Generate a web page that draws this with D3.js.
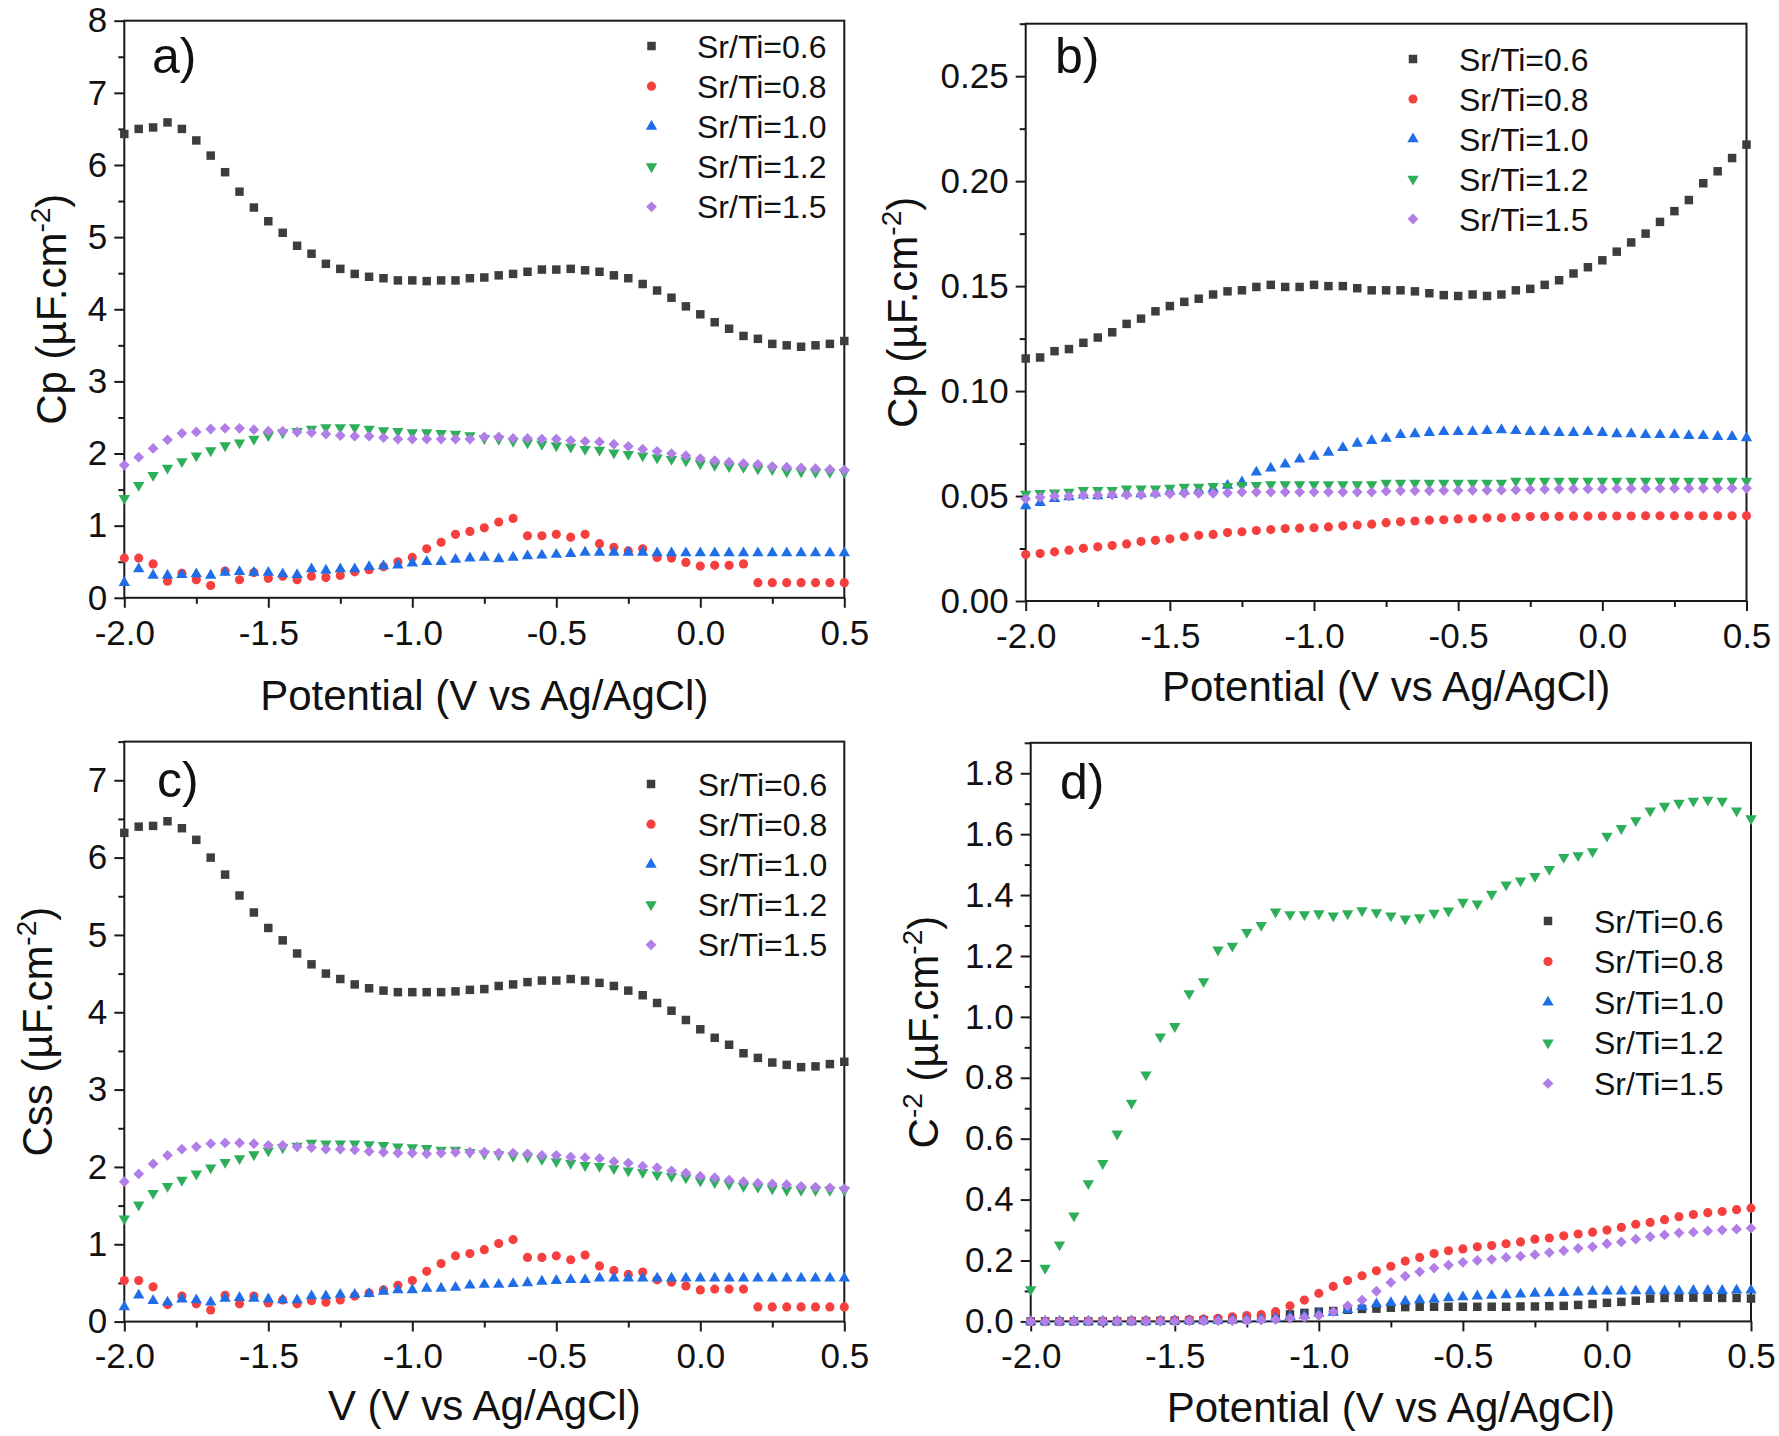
<!DOCTYPE html>
<html>
<head>
<meta charset="utf-8">
<script src="https://cdn.jsdelivr.net/npm/d3@7"></script>
<style>
  body { margin: 0; background: #fff; }
  svg { display: block; }
  text { font-family: "Liberation Sans", Arial, sans-serif; fill: #111; }
</style>
</head>
<body>
<svg id="fig"></svg>
<script>
// ─── DATA ───────────────────────────────────────────────────────────────────

const potential = [
  -2.0, -1.95, -1.9, -1.85, -1.8, -1.75, -1.7, -1.65, -1.6, -1.55,
  -1.5, -1.45, -1.4, -1.35, -1.3, -1.25, -1.2, -1.15, -1.1, -1.05,
  -1.0, -0.95, -0.9, -0.85, -0.8, -0.75, -0.7, -0.65, -0.6, -0.55,
  -0.5, -0.45, -0.4, -0.35, -0.3, -0.25, -0.2, -0.15, -0.1, -0.05,
  0.0, 0.05, 0.1, 0.15, 0.2, 0.25, 0.3, 0.35, 0.4, 0.45, 0.5
];

const seriesNames = ["Sr/Ti=0.6", "Sr/Ti=0.8", "Sr/Ti=1.0", "Sr/Ti=1.2", "Sr/Ti=1.5"];

// a) Cp
const a06 = [6.43, 6.50, 6.52, 6.59, 6.50, 6.34, 6.13, 5.90, 5.63, 5.41,
  5.22, 5.06, 4.88, 4.77, 4.63, 4.56, 4.49, 4.45, 4.43, 4.40,
  4.40, 4.39, 4.40, 4.40, 4.43, 4.44, 4.47, 4.49, 4.52, 4.55,
  4.55, 4.56, 4.54, 4.52, 4.47, 4.43, 4.35, 4.26, 4.16, 4.04,
  3.93, 3.82, 3.73, 3.63, 3.59, 3.52, 3.50, 3.48, 3.50, 3.52, 3.56];
const a08 = [0.55, 0.55, 0.47, 0.23, 0.34, 0.25, 0.17, 0.37, 0.25, 0.35,
  0.27, 0.30, 0.25, 0.30, 0.28, 0.31, 0.36, 0.39, 0.43, 0.50,
  0.56, 0.68, 0.77, 0.88, 0.92, 0.97, 1.05, 1.10, 0.86, 0.86,
  0.88, 0.84, 0.88, 0.75, 0.70, 0.65, 0.68, 0.56, 0.55, 0.49,
  0.44, 0.45, 0.45, 0.47, 0.21, 0.21, 0.21, 0.21, 0.21, 0.21, 0.21];
const a10 = [0.21, 0.40, 0.31, 0.31, 0.32, 0.33, 0.31, 0.35, 0.36, 0.35,
  0.35, 0.33, 0.32, 0.40, 0.38, 0.40, 0.40, 0.43, 0.44, 0.45,
  0.48, 0.50, 0.50, 0.53, 0.55, 0.56, 0.54, 0.56, 0.58, 0.59,
  0.60, 0.61, 0.63, 0.63, 0.63, 0.63, 0.63, 0.62, 0.62, 0.62,
  0.62, 0.62, 0.62, 0.62, 0.62, 0.62, 0.62, 0.62, 0.62, 0.62, 0.62];
const a12 = [1.38, 1.56, 1.70, 1.80, 1.89, 1.97, 2.04, 2.11, 2.15, 2.20,
  2.25, 2.29, 2.31, 2.34, 2.36, 2.36, 2.36, 2.34, 2.32, 2.31,
  2.29, 2.29, 2.28, 2.27, 2.25, 2.21, 2.20, 2.17, 2.15, 2.13,
  2.11, 2.09, 2.06, 2.05, 2.01, 1.99, 1.97, 1.94, 1.92, 1.90,
  1.86, 1.84, 1.82, 1.81, 1.79, 1.78, 1.75, 1.75, 1.74, 1.74, 1.74];
const a15 = [1.84, 1.95, 2.07, 2.19, 2.28, 2.30, 2.34, 2.35, 2.35, 2.33,
  2.31, 2.31, 2.30, 2.29, 2.27, 2.25, 2.24, 2.24, 2.22, 2.20,
  2.20, 2.20, 2.20, 2.20, 2.20, 2.23, 2.23, 2.21, 2.21, 2.20,
  2.20, 2.18, 2.17, 2.16, 2.13, 2.10, 2.06, 2.03, 2.00, 1.97,
  1.93, 1.90, 1.88, 1.86, 1.85, 1.82, 1.81, 1.80, 1.79, 1.78, 1.77];

// b) Cp
const b06 = [0.1155, 0.116, 0.119, 0.120, 0.123, 0.1255, 0.128, 0.132, 0.1345, 0.138,
  0.1405, 0.1425, 0.144, 0.146, 0.1475, 0.148, 0.1496, 0.1506, 0.1496, 0.1496,
  0.1506, 0.150, 0.150, 0.149, 0.148, 0.148, 0.148, 0.1475, 0.1466, 0.1457,
  0.1453, 0.146, 0.1453, 0.146, 0.148, 0.1487, 0.1506, 0.1528, 0.156, 0.159,
  0.1623, 0.1664, 0.1708, 0.175, 0.1806, 0.1857, 0.191, 0.199, 0.2047, 0.211, 0.2174];
const b08 = [0.0221, 0.0226, 0.0234, 0.0242, 0.0251, 0.0258, 0.0264, 0.0272, 0.0283, 0.0289,
  0.0296, 0.0306, 0.0313, 0.0317, 0.0326, 0.033, 0.0336, 0.034, 0.0345, 0.0347,
  0.0349, 0.0353, 0.0358, 0.0362, 0.0366, 0.0373, 0.0377, 0.0381, 0.0385, 0.0387,
  0.0391, 0.0392, 0.0396, 0.0396, 0.0400, 0.0402, 0.0403, 0.0403, 0.0404, 0.0404,
  0.0405, 0.0405, 0.0405, 0.0406, 0.0406, 0.0406, 0.0406, 0.0406, 0.0406, 0.0406, 0.0406];
const b10 = [0.0453, 0.0468, 0.0487, 0.0496, 0.0504, 0.0500, 0.0506, 0.0513, 0.0510, 0.0513,
  0.0523, 0.0523, 0.0528, 0.0534, 0.0550, 0.0566, 0.0613, 0.0632, 0.0651, 0.0675,
  0.0689, 0.0708, 0.0730, 0.0751, 0.0764, 0.0774, 0.0792, 0.0796, 0.0802, 0.0806,
  0.0806, 0.0806, 0.0811, 0.0815, 0.0811, 0.0806, 0.0806, 0.0802, 0.0802, 0.0806,
  0.0802, 0.0796, 0.0796, 0.0792, 0.0792, 0.0792, 0.0787, 0.0787, 0.0783, 0.0783, 0.0777];
const b12 = [0.0509, 0.0513, 0.0515, 0.0519, 0.0528, 0.0528, 0.0528, 0.0534, 0.0534, 0.0534,
  0.0538, 0.0543, 0.0543, 0.0547, 0.0547, 0.0551, 0.0551, 0.0555, 0.0555, 0.0555,
  0.0555, 0.0555, 0.0555, 0.0555, 0.0555, 0.0562, 0.0562, 0.0562, 0.0562, 0.0562,
  0.0562, 0.0562, 0.0562, 0.0562, 0.0572, 0.0572, 0.0572, 0.0572, 0.0572, 0.0572,
  0.0572, 0.0572, 0.0572, 0.0572, 0.0572, 0.0572, 0.0572, 0.0572, 0.0572, 0.0572, 0.0572];
const b15 = [0.0487, 0.0494, 0.0500, 0.0500, 0.0504, 0.0504, 0.0506, 0.0506, 0.0506, 0.0510,
  0.0510, 0.0513, 0.0513, 0.0513, 0.0515, 0.0519, 0.0519, 0.0519, 0.0519, 0.0519,
  0.0519, 0.0519, 0.0519, 0.0519, 0.0519, 0.0523, 0.0525, 0.0525, 0.0525, 0.0526,
  0.0526, 0.0527, 0.0527, 0.0528, 0.0529, 0.0530, 0.0532, 0.0533, 0.0534, 0.0534,
  0.0534, 0.0535, 0.0535, 0.0535, 0.0536, 0.0536, 0.0536, 0.0537, 0.0537, 0.0537, 0.0537];

// c) Css
const c06 = [6.32, 6.40, 6.41, 6.47, 6.38, 6.23, 6.00, 5.78, 5.51, 5.29,
  5.09, 4.93, 4.76, 4.62, 4.50, 4.43, 4.36, 4.31, 4.28, 4.26,
  4.26, 4.26, 4.26, 4.27, 4.29, 4.30, 4.34, 4.36, 4.39, 4.41,
  4.41, 4.43, 4.41, 4.38, 4.34, 4.28, 4.22, 4.12, 4.02, 3.90,
  3.78, 3.67, 3.58, 3.47, 3.41, 3.35, 3.32, 3.29, 3.30, 3.33, 3.36];
const c08 = [0.53, 0.53, 0.45, 0.22, 0.33, 0.23, 0.15, 0.34, 0.23, 0.33,
  0.24, 0.28, 0.23, 0.27, 0.25, 0.28, 0.33, 0.37, 0.41, 0.47,
  0.53, 0.65, 0.75, 0.85, 0.88, 0.93, 1.01, 1.06, 0.83, 0.83,
  0.85, 0.80, 0.86, 0.72, 0.66, 0.61, 0.64, 0.54, 0.51, 0.46,
  0.41, 0.42, 0.42, 0.42, 0.19, 0.19, 0.19, 0.19, 0.19, 0.19, 0.19];
const c10 = [0.19, 0.34, 0.27, 0.25, 0.29, 0.28, 0.25, 0.30, 0.31, 0.30,
  0.29, 0.28, 0.28, 0.33, 0.33, 0.35, 0.35, 0.36, 0.39, 0.41,
  0.41, 0.43, 0.43, 0.44, 0.47, 0.48, 0.48, 0.49, 0.50, 0.52,
  0.53, 0.54, 0.54, 0.56, 0.56, 0.56, 0.56, 0.56, 0.56, 0.56,
  0.56, 0.56, 0.56, 0.56, 0.56, 0.56, 0.56, 0.56, 0.56, 0.56, 0.56];
const c12 = [1.33, 1.51, 1.66, 1.75, 1.83, 1.91, 1.99, 2.06, 2.11, 2.16,
  2.21, 2.25, 2.27, 2.31, 2.30, 2.30, 2.30, 2.29, 2.28, 2.26,
  2.25, 2.24, 2.22, 2.22, 2.19, 2.17, 2.16, 2.14, 2.13, 2.10,
  2.07, 2.05, 2.02, 2.01, 1.98, 1.95, 1.93, 1.90, 1.88, 1.86,
  1.82, 1.80, 1.78, 1.75, 1.74, 1.72, 1.70, 1.70, 1.70, 1.70, 1.70];
const c15 = [1.81, 1.91, 2.04, 2.15, 2.23, 2.26, 2.30, 2.31, 2.31, 2.30,
  2.28, 2.28, 2.26, 2.25, 2.23, 2.23, 2.22, 2.20, 2.19, 2.18,
  2.18, 2.17, 2.18, 2.19, 2.19, 2.19, 2.18, 2.18, 2.17, 2.15,
  2.15, 2.13, 2.12, 2.11, 2.07, 2.05, 2.01, 1.99, 1.95, 1.92,
  1.88, 1.86, 1.83, 1.81, 1.79, 1.78, 1.77, 1.75, 1.74, 1.73, 1.72];

// d) C^-2
const d06 = [0.000, 0.000, 0.000, 0.000, 0.000, 0.000, 0.000, 0.001, 0.001, 0.002,
  0.002, 0.003, 0.004, 0.005, 0.006, 0.007, 0.009, 0.013, 0.023, 0.028,
  0.032, 0.034, 0.038, 0.041, 0.042, 0.045, 0.047, 0.048, 0.048, 0.048,
  0.048, 0.048, 0.048, 0.048, 0.049, 0.049, 0.050, 0.051, 0.054, 0.057,
  0.061, 0.064, 0.068, 0.075, 0.077, 0.078, 0.078, 0.078, 0.077, 0.077, 0.075];
const d08 = [0.000, 0.000, 0.000, 0.000, 0.001, 0.001, 0.001, 0.002, 0.002, 0.003,
  0.004, 0.006, 0.008, 0.010, 0.015, 0.019, 0.022, 0.032, 0.051, 0.070,
  0.092, 0.115, 0.134, 0.150, 0.166, 0.181, 0.198, 0.210, 0.223, 0.232,
  0.238, 0.245, 0.249, 0.255, 0.261, 0.270, 0.274, 0.281, 0.287, 0.293,
  0.300, 0.309, 0.319, 0.325, 0.334, 0.344, 0.351, 0.357, 0.361, 0.367, 0.372];
const d10 = [0.000, 0.000, 0.000, 0.000, 0.000, 0.000, 0.000, 0.001, 0.001, 0.001,
  0.002, 0.002, 0.003, 0.004, 0.005, 0.006, 0.008, 0.010, 0.015, 0.019,
  0.026, 0.029, 0.038, 0.048, 0.057, 0.061, 0.066, 0.070, 0.073, 0.077,
  0.080, 0.083, 0.085, 0.087, 0.089, 0.092, 0.093, 0.094, 0.096, 0.098,
  0.099, 0.099, 0.100, 0.100, 0.100, 0.100, 0.101, 0.101, 0.101, 0.102, 0.102];
const d12 = [0.105, 0.175, 0.252, 0.347, 0.453, 0.519, 0.616, 0.717, 0.810, 0.935,
  0.969, 1.077, 1.116, 1.220, 1.233, 1.278, 1.301, 1.345, 1.336, 1.336,
  1.339, 1.332, 1.339, 1.349, 1.343, 1.332, 1.322, 1.326, 1.341, 1.348,
  1.377, 1.371, 1.403, 1.434, 1.447, 1.462, 1.485, 1.524, 1.530, 1.543,
  1.594, 1.619, 1.645, 1.677, 1.692, 1.702, 1.709, 1.712, 1.709, 1.677, 1.651];
const d15 = [0.000, 0.000, 0.000, 0.000, 0.000, 0.000, 0.000, 0.000, 0.000, 0.000,
  0.000, 0.001, 0.001, 0.002, 0.002, 0.003, 0.004, 0.006, 0.010, 0.013,
  0.019, 0.032, 0.051, 0.070, 0.099, 0.128, 0.149, 0.163, 0.175, 0.185,
  0.194, 0.200, 0.204, 0.210, 0.214, 0.219, 0.226, 0.232, 0.240, 0.245,
  0.255, 0.261, 0.270, 0.278, 0.284, 0.291, 0.293, 0.297, 0.300, 0.303, 0.306];

// tick values
const xTicks = [-2.0, -1.5, -1.0, -0.5, 0.0, 0.5];
const yTicksA = [0, 1, 2, 3, 4, 5, 6, 7, 8];
const yTicksB = [0.00, 0.05, 0.10, 0.15, 0.20, 0.25];
const yTicksC = [0, 1, 2, 3, 4, 5, 6, 7];
const yTicksD = [0.0, 0.2, 0.4, 0.6, 0.8, 1.0, 1.2, 1.4, 1.6, 1.8];

// ─── SETUP ──────────────────────────────────────────────────────────────────

const W = 1779, H = 1436;
const svg = d3.select("#fig").attr("width", W).attr("height", H);

const colors = ["#3d3d3d", "#f5403f", "#1f6ee8", "#2dae59", "#b07ee6"];
const markers = [
  { type: d3.symbolSquare, size: 72, rot: 0 },
  { type: d3.symbolCircle, size: 66, rot: 0 },
  { type: d3.symbolTriangle, size: 56, rot: 0 },
  { type: d3.symbolTriangle, size: 56, rot: 180 },
  { type: d3.symbolSquare, size: 58, rot: 45 }
];

const minus = (f) => (v) => f(v).replace("\u2212", "-");

// midpoints between major ticks for the minor marks
const halfSteps = (t) => t.slice(1).map((v, i) => (v + t[i]) / 2);

const panels = [
  {
    label: "a)", lx: 152, ly: 73,
    box: [124.3, 20.7, 844.3, 597.8], yMax: 8, yTicks: yTicksA, yFmt: d3.format("d"),
    series: [a06, a08, a10, a12, a15],
    xTitle: "Potential (V vs Ag/AgCl)", xTitleY: 710,
    yHead: "Cp", ySup: null, yTitleX: 66,
    leg: { mx: 651.5, tx: 697, y0: 46, dy: 40.2 }
  },
  {
    label: "b)", lx: 1055, ly: 73,
    box: [1025.7, 23.7, 1746.5, 601], yMax: 0.275, yTicks: yTicksB, yFmt: d3.format(".2f"),
    series: [b06, b08, b10, b12, b15],
    xTitle: "Potential (V vs Ag/AgCl)", xTitleY: 701,
    yHead: "Cp", ySup: null, yTitleX: 917,
    leg: { mx: 1413, tx: 1459, y0: 59, dy: 40 }
  },
  {
    label: "c)", lx: 157, ly: 797,
    box: [124.3, 741.6, 844.3, 1321.6], yMax: 7.5, yTicks: yTicksC, yFmt: d3.format("d"),
    series: [c06, c08, c10, c12, c15],
    xTitle: "V (V vs Ag/AgCl)", xTitleY: 1420,
    yHead: "Css", ySup: null, yTitleX: 52,
    leg: { mx: 651, tx: 697.7, y0: 784, dy: 40.2 }
  },
  {
    label: "d)", lx: 1060, ly: 799,
    box: [1030.7, 742.8, 1751, 1321.4], yMax: 1.9, yTicks: yTicksD, yFmt: d3.format(".1f"),
    series: [d06, d08, d10, d12, d15],
    xTitle: "Potential (V vs Ag/AgCl)", xTitleY: 1422,
    yHead: "C", ySup: "-2", yTitleX: 938,
    leg: { mx: 1548, tx: 1594, y0: 921, dy: 40.6 }
  }
];

// ─── DRAW ───────────────────────────────────────────────────────────────────

function styleAxis(g) {
  g.attr("font-size", 35).attr("color", "#1a1a1a");
  g.select(".domain").remove();
  g.selectAll(".tick line").attr("stroke-width", 2);
}

function drawPanel(p) {
  const [x0, y0, x1, y1] = p.box;
  const x = d3.scaleLinear().domain([-2.0, 0.5]).range([x0, x1]);
  const y = d3.scaleLinear().domain([0, p.yMax]).range([y1, y0]);
  const g = svg.append("g");

  // minor ticks (one between each pair of majors, plus one above the last if room)
  const step = p.yTicks[1] - p.yTicks[0];
  const last = p.yTicks[p.yTicks.length - 1];
  const yMinor = halfSteps(p.yTicks).concat(last + step / 2 <= p.yMax + 1e-9 ? [last + step / 2] : []);

  g.append("g")
    .attr("transform", `translate(0,${y1})`)
    .call(d3.axisBottom(x).tickValues(halfSteps(xTicks)).tickFormat("").tickSize(6).tickSizeOuter(0))
    .call(styleAxis);
  g.append("g")
    .attr("transform", `translate(${x0},0)`)
    .call(d3.axisLeft(y).tickValues(yMinor).tickFormat("").tickSize(6).tickSizeOuter(0))
    .call(styleAxis);

  // major ticks
  g.append("g")
    .attr("transform", `translate(0,${y1})`)
    .call(d3.axisBottom(x).tickValues(xTicks).tickFormat(minus(d3.format(".1f")))
      .tickSize(10).tickPadding(12).tickSizeOuter(0))
    .call(styleAxis);
  g.append("g")
    .attr("transform", `translate(${x0},0)`)
    .call(d3.axisLeft(y).tickValues(p.yTicks).tickFormat(minus(p.yFmt))
      .tickSize(10).tickPadding(7).tickSizeOuter(0))
    .call(styleAxis);

  // frame
  g.append("rect")
    .attr("x", x0).attr("y", y0)
    .attr("width", x1 - x0).attr("height", y1 - y0)
    .attr("fill", "none").attr("stroke", "#1a1a1a").attr("stroke-width", 2);

  // scatter points
  p.series.forEach((vals, si) => {
    const m = markers[si];
    const sym = d3.symbol(m.type, m.size);
    g.append("g")
      .selectAll("path")
      .data(vals.map((v, i) => [potential[i], v]))
      .join("path")
      .attr("d", sym)
      .attr("fill", colors[si])
      .attr("transform", (d) => `translate(${x(d[0])},${y(d[1])}) rotate(${m.rot})`);
  });

  // legend
  seriesNames.forEach((name, si) => {
    const m = markers[si];
    const cy = p.leg.y0 + si * p.leg.dy;
    g.append("path")
      .attr("d", d3.symbol(m.type, m.size)())
      .attr("fill", colors[si])
      .attr("transform", `translate(${p.leg.mx},${cy}) rotate(${m.rot})`);
    g.append("text")
      .attr("x", p.leg.tx).attr("y", cy + 11.5)
      .attr("font-size", 32)
      .text(name);
  });

  // panel letter
  g.append("text")
    .attr("x", p.lx).attr("y", p.ly)
    .attr("font-size", 50)
    .text(p.label);

  // x title
  g.append("text")
    .attr("x", (x0 + x1) / 2).attr("y", p.xTitleY)
    .attr("text-anchor", "middle")
    .attr("font-size", 42)
    .text(p.xTitle);

  // y title
  const yt = g.append("text")
    .attr("transform", `translate(${p.yTitleX},${(y0 + y1) / 2}) rotate(-90)`)
    .attr("text-anchor", "middle")
    .attr("font-size", 42);
  yt.append("tspan").text(p.yHead);
  if (p.ySup) {
    yt.append("tspan").attr("font-size", 28).attr("dy", -16).text(p.ySup);
    yt.append("tspan").attr("dy", 16).text(" (\u00b5F.cm");
  } else {
    yt.append("tspan").text(" (\u00b5F.cm");
  }
  yt.append("tspan").attr("font-size", 28).attr("dy", -16).text("-2");
  yt.append("tspan").attr("dy", 16).text(")");
}

panels.forEach(drawPanel);
</script>
</body>
</html>
